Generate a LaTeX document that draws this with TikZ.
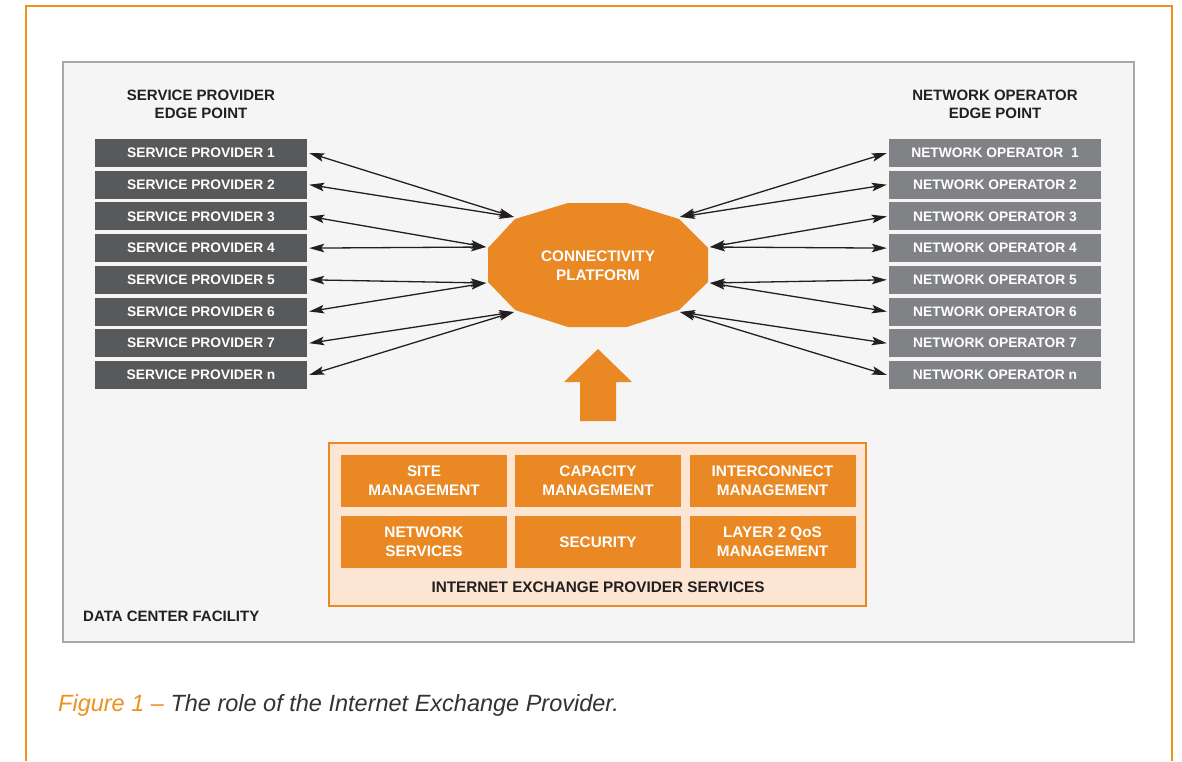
\documentclass[tikz,border=0pt]{standalone}
\usepackage{fontspec}
\setmainfont{Liberation Sans}
\usetikzlibrary{arrows.meta}

\definecolor{frameorange}{HTML}{F0901E}
\definecolor{iexorange}{HTML}{EA8823}
\definecolor{peach}{HTML}{FCE5D2}
\definecolor{spgray}{HTML}{58595B}
\definecolor{nogray}{HTML}{808285}
\definecolor{facility}{HTML}{F4F5F4}
\definecolor{facilityline}{HTML}{A6A8AB}
\definecolor{ink}{HTML}{231F20}
\definecolor{captionink}{HTML}{333333}

\tikzset{
  hdr/.style={text=ink, font=\bfseries\fontsize{15}{18}\selectfont, align=center, inner sep=0pt},
  spbox/.style={fill=spgray, text=white, minimum width=212pt, minimum height=28pt, inner sep=0pt,
                font=\bfseries\fontsize{13.8}{16}\selectfont},
  nobox/.style={spbox, fill=nogray},
  svcbox/.style={fill=iexorange, text=white, minimum width=166pt, minimum height=52pt, inner sep=0pt,
                 align=center, font=\bfseries\fontsize{15.3}{19}\selectfont},
  link/.style={draw=ink, line width=1.3pt,
               {Stealth[length=15pt,width=8.5pt,inset=3pt]}-{Stealth[length=15pt,width=8.5pt,inset=3pt]}}
}

\begin{document}
\begin{tikzpicture}[x=1pt,y=-1pt]
\useasboundingbox (0,0) rectangle (1182,761);
\fill[white] (0,0) rectangle (1182,761);

% open orange frame
\draw[frameorange, line width=2.5pt, line join=miter] (26,761) -- (26,6) -- (1172,6) -- (1172,761);

% data center facility area
\draw[facilityline, fill=facility, line width=1.5pt] (63,62) rectangle (1134,642);
\node[anchor=west, text=ink, font=\bfseries\fontsize{15}{18}\selectfont, inner sep=0pt] (dcf) at (83,616) {DATA CENTER FACILITY};

% column headers
\node[hdr] (sphdr) at (201,104) {SERVICE PROVIDER\\EDGE POINT};
\node[hdr] (nohdr) at (995,104) {NETWORK OPERATOR\\EDGE POINT};

% provider and operator boxes
\foreach \i/\t [evaluate=\i as \yy using {153+(\i-1)*31.7}] in {1/1,2/2,3/3,4/4,5/5,6/6,7/7,8/n} {
  \node[spbox] (sp\i) at (201,\yy) {SERVICE PROVIDER \t};
}
\foreach \i/\t [evaluate=\i as \yy using {153+(\i-1)*31.7}] in {1/{\ 1},2/2,3/3,4/4,5/5,6/6,7/7,8/n} {
  \node[nobox] (no\i) at (995,\yy) {NETWORK OPERATOR \t};
}

% connectivity platform outline
\coordinate (vA) at (568,203);
\coordinate (vB) at (627,203);
\coordinate (vC) at (679,219);
\coordinate (vD) at (708,248);
\coordinate (vE) at (708,282);
\coordinate (vF) at (679,310);
\coordinate (vG) at (627,327);
\coordinate (vH) at (568,327);
\coordinate (vI) at (515,310);
\coordinate (vJ) at (488,282);
\coordinate (vK) at (488,248);
\coordinate (vL) at (515,219);
\fill[iexorange] (vA) -- (vB) -- (vC) -- (vD) -- (vE) -- (vF) -- (vG) -- (vH) -- (vI) -- (vJ) -- (vK) -- (vL) -- cycle;
\node[text=white, align=center, inner sep=0pt, font=\bfseries\fontsize{15.3}{19}\selectfont] (cp) at (598,266) {CONNECTIVITY\\PLATFORM};

% links to the platform
\coordinate (pL1) at (514,217);
\coordinate (pL2) at (486,247);
\coordinate (pL3) at (486,283);
\coordinate (pL4) at (514,312);
\coordinate (pR1) at (680,217);
\coordinate (pR2) at (710,247);
\coordinate (pR3) at (710,283);
\coordinate (pR4) at (680,312);
\foreach \i/\p in {1/1,2/1,3/2,4/2,5/3,6/3,7/4,8/4} {
  \draw[link] ([xshift=2pt]sp\i.east) -- (pL\p);
  \draw[link] ([xshift=-2pt]no\i.west) -- (pR\p);
}

% upward arrow from the services block
\fill[iexorange] (598,349) -- (632,382) -- (616,382) -- (616,421) -- (580,421) -- (580,382) -- (564,382) -- cycle;

% internet exchange provider services
\node[draw=iexorange, fill=peach, line width=1.5pt, minimum width=537pt, minimum height=163pt, inner sep=0pt] (svc) at (597.5,524.5) {};
\node[svcbox] (site) at (424,481) {SITE\\MANAGEMENT};
\node[svcbox] (cap) at (598,481) {CAPACITY\\MANAGEMENT};
\node[svcbox] (icm) at (772.5,481) {INTERCONNECT\\MANAGEMENT};
\node[svcbox] (nets) at (424,542) {NETWORK\\SERVICES};
\node[svcbox] (sec) at (598,542) {SECURITY};
\node[svcbox] (qos) at (772.5,542) {LAYER 2 QoS\\MANAGEMENT};
\node[text=ink, inner sep=0pt, font=\bfseries\fontsize{15.3}{18}\selectfont] (svcl) at (598,587) {INTERNET EXCHANGE PROVIDER SERVICES};

% caption
\node[anchor=base west, inner sep=0pt, font=\itshape\fontsize{23.5}{28}\selectfont] (cap1) at (58,711)
  {\textcolor{frameorange}{Figure 1 –} \textcolor{captionink}{The role of the Internet Exchange Provider.}};
\end{tikzpicture}
\end{document}
